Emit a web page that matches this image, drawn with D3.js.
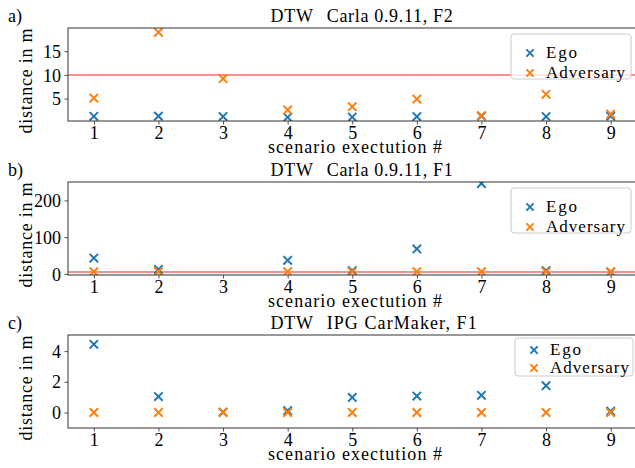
<!DOCTYPE html>
<html>
<head>
<meta charset="utf-8">
<script src="https://cdn.jsdelivr.net/npm/d3@7"></script>
<style>
  body { margin: 0; background: #fff; }
  svg text { font-family: "Liberation Serif", "DejaVu Serif", serif; fill: #000; }
</style>
</head>
<body>
<div class="chart"></div>
<script>
// scenario execution numbers
const runs = [1, 2, 3, 4, 5, 6, 7, 8, 9];

// a) Carla 0.9.11, F2
const egoA = [1.25, 1.3, 1.2, 1.05, 1.1, 1.2, 1.3, 1.2, 1.3];
const advA = [5.1, 19.0, 9.2, 2.6, 3.3, 4.9, 1.4, 5.9, 1.7];

// b) Carla 0.9.11, F1 (run 3 missing)
const egoB = [43, 12, null, 37, 9, 68, 246, 9, 5];
const advB = [6, 6, null, 6, 6, 6, 6, 6, 6];

// c) IPG CarMaker, F1
const egoC = [4.44, 1.04, 0.03, 0.12, 0.98, 1.07, 1.12, 1.75, 0.08];
const advC = [0, 0, 0, 0, 0, 0, 0, 0, 0];

const titleHead = "DTW";
const titleTails = ["Carla 0.9.11, F2", "Carla 0.9.11, F1", "IPG CarMaker, F1"];
const panelLabels = ["a)", "b)", "c)"];
const thresholds = [10, 5, null];
const yTicksA = [5, 10, 15];
const yTicksB = [0, 100, 200];
const yTicksC = [0, 2, 4];
const seriesNames = ["Ego", "Adversary"];

const colors = ["#1f77b4", "#ff7f0e"];

const W = 635, H = 468;
const left = 68, right = 636.5;
const panelH = 93;
const fs = 18;

const panels = [
  {top: 28,  ego: egoA, adv: advA, domain: [0.27, 19.9], ticks: yTicksA, tailW: 126,
   leg: {x: 511, y: 34, w: 120, h: 45, r1: 24, r2: 44, mx: 530, tx: 546}},
  {top: 182, ego: egoB, adv: advB, domain: [-3, 250], ticks: yTicksB, tailW: 126,
   leg: {x: 511, y: 188, w: 120, h: 45, r1: 24, r2: 44, mx: 530, tx: 546}},
  {top: 335, ego: egoC, adv: advC, domain: [-1.01, 5.05], ticks: yTicksC, tailW: 150,
   leg: {x: 515, y: 338, w: 118, h: 38, r1: 17, r2: 35, mx: 534, tx: 550}}
];

const svg = d3.select(".chart").append("svg")
  .attr("width", W)
  .attr("height", H);

const xScale = d3.scaleLinear()
  .domain([0.6, 9.4])
  .range([left, right]);

function cross(g, x, y, color, s) {
  g.append("path")
    .attr("d", `M${x - s},${y - s}L${x + s},${y + s}M${x - s},${y + s}L${x + s},${y - s}`)
    .attr("stroke", color)
    .attr("stroke-width", 2)
    .attr("fill", "none");
}

panels.forEach(function(p, i) {
  const bottom = p.top + panelH;
  const yScale = d3.scaleLinear().domain(p.domain).range([bottom, p.top]);

  const g = svg.append("g");

  const clipId = "clip" + i;
  svg.append("clipPath").attr("id", clipId)
    .append("rect")
    .attr("x", left).attr("y", p.top)
    .attr("width", right - left).attr("height", panelH);

  const plot = g.append("g").attr("clip-path", "url(#" + clipId + ")");

  if (thresholds[i] !== null) {
    plot.append("line")
      .attr("x1", left).attr("x2", right)
      .attr("y1", yScale(thresholds[i])).attr("y2", yScale(thresholds[i]))
      .attr("stroke", "red")
      .attr("stroke-opacity", 0.6)
      .attr("stroke-width", 1.5);
  }

  [p.ego, p.adv].forEach(function(vals, k) {
    vals.forEach(function(v, j) {
      if (v === null) return;
      cross(plot, xScale(runs[j]), yScale(v), colors[k], 4.2);
    });
  });

  // axes
  const xAxis = d3.axisBottom(xScale).tickValues(runs).tickSize(3.5).tickPadding(3).tickFormat(d3.format("d"));
  const yAxis = d3.axisLeft(yScale).tickValues(p.ticks).tickSize(3.5).tickPadding(3.5).tickFormat(d3.format("d"));

  const gx = g.append("g")
    .attr("transform", "translate(0," + bottom + ")")
    .call(xAxis);
  const gy = g.append("g")
    .attr("transform", "translate(" + left + ",0)")
    .call(yAxis);

  [gx, gy].forEach(function(ax) {
    ax.select(".domain").remove();
    ax.selectAll("line").attr("stroke", "#222").attr("stroke-width", 0.8);
    ax.selectAll("text")
      .attr("font-size", fs)
      .attr("font-family", "Liberation Serif")
      .attr("fill", "#000");
  });
  gx.selectAll("text").attr("dy", null).attr("y", 17.5);
  gy.selectAll("text").attr("dy", "0.34em");

  // spines
  g.append("rect")
    .attr("x", left).attr("y", p.top)
    .attr("width", right - left).attr("height", panelH)
    .attr("fill", "none")
    .attr("stroke", "#333")
    .attr("stroke-width", 1);

  // title and panel label
  g.append("text")
    .attr("x", 270.5)
    .attr("y", p.top - 6.3)
    .attr("font-size", fs)
    .attr("textLength", 42.5)
    .text(titleHead);
  g.append("text")
    .attr("x", 326.7)
    .attr("y", p.top - 6.3)
    .attr("font-size", fs)
    .attr("textLength", p.tailW)
    .text(titleTails[i]);

  g.append("text")
    .attr("x", 8)
    .attr("y", p.top - 6)
    .attr("font-size", fs)
    .text(panelLabels[i]);

  // axis labels
  g.append("text")
    .attr("x", 268)
    .attr("y", bottom + 31.5)
    .attr("font-size", fs)
    .attr("textLength", 174)
    .text("scenario exectution #");

  g.append("text")
    .attr("transform", "translate(32," + (p.top + panelH / 2 + 6.5) + ") rotate(-90)")
    .attr("text-anchor", "middle")
    .attr("font-size", fs)
    .attr("textLength", 105)
    .text("distance in m");

  // legend
  const L = p.leg;
  g.append("rect")
    .attr("x", L.x).attr("y", L.y)
    .attr("width", L.w).attr("height", L.h)
    .attr("rx", 3)
    .attr("fill", "white").attr("fill-opacity", 0.8)
    .attr("stroke", "#cccccc").attr("stroke-width", 1);

  const textW = [31, 79];
  seriesNames.forEach(function(name, k) {
    const by = L.y + (k === 0 ? L.r1 : L.r2);
    cross(g, L.mx, by - 5, colors[k], 3.6);
    g.append("text")
      .attr("x", L.tx)
      .attr("y", by)
      .attr("font-size", 17)
      .attr("textLength", textW[k])
      .text(name);
  });
});
</script>
</body>
</html>
